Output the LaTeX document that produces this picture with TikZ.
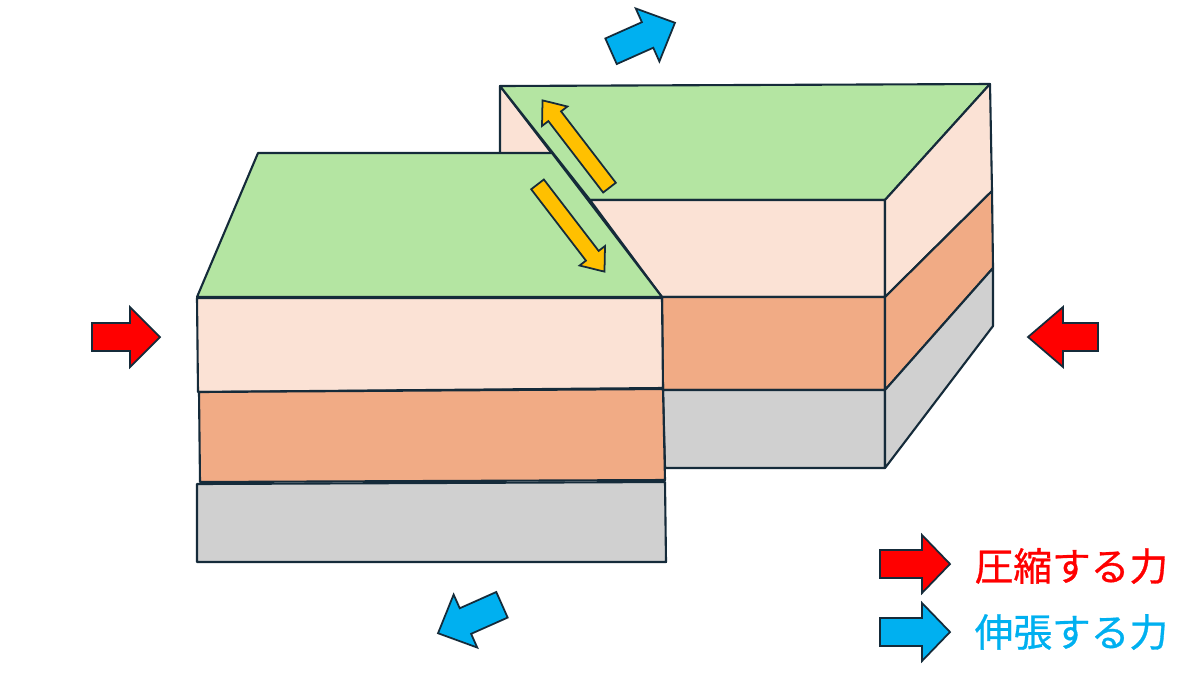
\documentclass[tikz,border=0pt]{standalone}
\usepackage{fontspec}
\newfontfamily\jpfont[FakeBold=0.8]{Noto Sans CJK JP}
\definecolor{topgreen}{HTML}{B4E5A2}
\definecolor{softpink}{HTML}{FBE2D5}
\definecolor{clayorange}{HTML}{F1AB85}
\definecolor{rockgrey}{HTML}{D0D0D0}
\definecolor{edgecol}{HTML}{152B3A}
\definecolor{pushred}{HTML}{FF0000}
\definecolor{pullblue}{HTML}{00B0F0}
\definecolor{slipyellow}{HTML}{FFC000}
\tikzset{
  layer/.style={draw=edgecol, line width=0.6pt, line join=round},
  force/.style={draw=edgecol, line width=0.5pt, line join=miter},
  pics/blockarrow/.style n args={4}{code={
    \draw[pic actions] (-#1/2,-#2) -- (#1/2-#4,-#2) -- (#1/2-#4,-#3) -- (#1/2,0)
      -- (#1/2-#4,#3) -- (#1/2-#4,#2) -- (-#1/2,#2) -- cycle;
  }},
  legendtext/.style={anchor=west, inner sep=0pt, font=\jpfont\fontsize{11}{13}\selectfont}
}
\begin{document}
\begin{tikzpicture}[x=0.01cm, y=-0.01cm]
  \useasboundingbox (0,0) rectangle (1200,675);

  \draw[layer, fill=softpink] (500,86) -- (662,297) -- (500,297) -- cycle;
  \draw[layer, fill=topgreen] (500,86) -- (990,84) -- (885,200) -- (590,200) -- cycle;
  \draw[layer, fill=softpink] (590,200) -- (885,200) -- (885,297) -- (662,297) -- cycle;
  \draw[layer, fill=clayorange] (662,297) -- (885,297) -- (885,390) -- (663,390) -- cycle;
  \draw[layer, fill=rockgrey] (663,390) -- (885,390) -- (885,468) -- (665,468) -- cycle;
  \draw[layer, fill=softpink] (885,200) -- (990,84) -- (992,191) -- (885,297) -- cycle;
  \draw[layer, fill=clayorange] (885,297) -- (992,191) -- (993,268) -- (885,390) -- cycle;
  \draw[layer, fill=rockgrey] (885,390) -- (993,268) -- (993,326) -- (885,468) -- cycle;

  \draw[layer, fill=topgreen] (258,153) -- (552,153) -- (662,297) -- (197,297) -- cycle;
  \draw[layer, fill=softpink] (197,298) -- (662,298) -- (663,388) -- (198,392) -- cycle;
  \draw[layer, fill=clayorange] (199,392) -- (663,389) -- (665,480) -- (200,482) -- cycle;
  \draw[layer, fill=rockgrey] (197,484) -- (665,482) -- (666,562) -- (197,562) -- cycle;

  \pic[force, fill=slipyellow, rotate=127.5] at (576,144) {blockarrow={110}{8}{16}{20}};
  \pic[force, fill=slipyellow, rotate=-52.5] at (571,228) {blockarrow={110}{8}{16}{20}};

  \pic[force, fill=pushred] at (126,337) {blockarrow={68}{14}{30}{30}};
  \pic[force, fill=pushred, rotate=180] at (1063,337) {blockarrow={70}{14}{30}{35}};
  \pic[force, fill=pullblue, rotate=24] at (643,37) {blockarrow={70}{14}{29}{30}};
  \pic[force, fill=pullblue, rotate=204] at (470,619) {blockarrow={70}{14}{29}{30}};

  \pic[force, fill=pushred] at (915,564) {blockarrow={70}{14}{29}{28}};
  \pic[force, fill=pullblue] at (915,632) {blockarrow={70}{14}{29}{28}};
  \node[legendtext, text=pushred] (compress) at (974,566) {圧縮する力};
  \node[legendtext, text=pullblue] (stretch) at (974,632) {伸張する力};
\end{tikzpicture}
\end{document}
